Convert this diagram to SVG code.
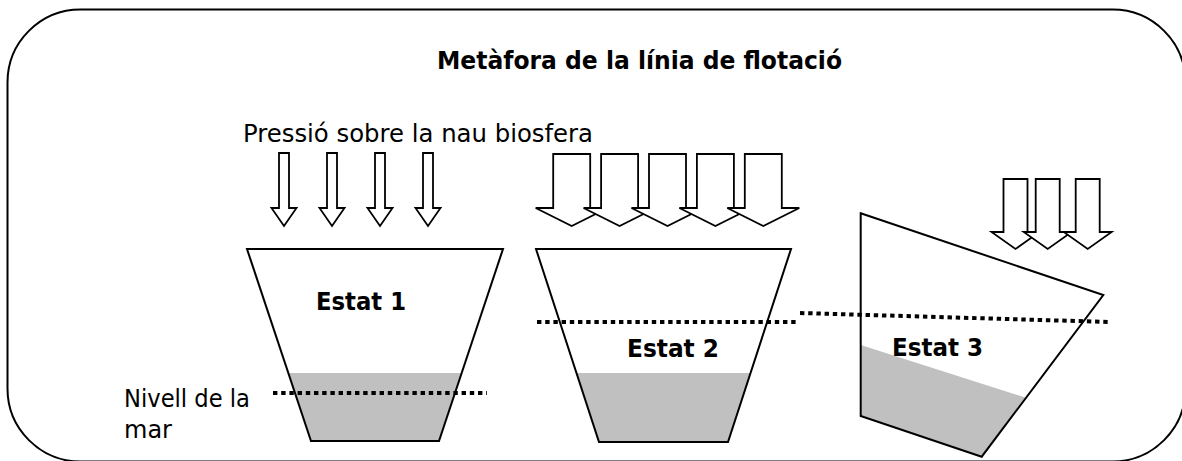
<svg xmlns="http://www.w3.org/2000/svg" width="1182" height="461" viewBox="0 0 1182 461">
<style>
.t{font-family:"DejaVu Sans","Liberation Sans",sans-serif;font-size:24px;fill:#000}
.b{font-weight:bold}
.arr{fill:#fff;stroke:#000;stroke-width:1.8;stroke-linejoin:miter}
.boat{fill:none;stroke:#000;stroke-width:2}
.water{fill:#c0c0c0;stroke:none}
.sea{stroke:#000;stroke-width:4;stroke-dasharray:4.4 3.8;fill:none}
</style>
<rect id="frame" x="7.5" y="9.5" width="1178" height="452" rx="73" ry="73" fill="#fff" stroke="#000" stroke-width="2"/>
<g id="title"><text class="t b" x="437" y="69" textLength="405" lengthAdjust="spacingAndGlyphs">Metàfora de la línia de flotació</text></g>
<g id="pressure-label"><text class="t" x="243" y="142" textLength="350" lengthAdjust="spacingAndGlyphs">Pressió sobre la nau biosfera</text></g>
<g id="arrows1">
<path class="arr" d="M279,153H289V208H296.5L284,226L271.5,208H279Z"/>
<path class="arr" d="M327,153H337V208H344.5L332,226L319.5,208H327Z"/>
<path class="arr" d="M375,153H385V208H392.5L380,226L367.5,208H375Z"/>
<path class="arr" d="M423,153H433V208H440.5L428,226L415.5,208H423Z"/>
</g>
<g id="arrows2">
<path class="arr" d="M553.2,154H590.2V208H607.7L571.7,226L535.7,208H553.2Z"/>
<path class="arr" d="M601.1,154H638.1V208H655.6L619.6,226L583.6,208H601.1Z"/>
<path class="arr" d="M649,154H686V208H703.5L667.5,226L631.5,208H649Z"/>
<path class="arr" d="M696.9,154H733.9V208H751.4L715.4,226L679.4,208H696.9Z"/>
<path class="arr" d="M744.8,154H781.8V208H799.3L763.3,226L727.3,208H744.8Z"/>
</g>
<g id="arrows3">
<path class="arr" d="M1003.5,179H1027.5V232H1039.5L1015.5,249L991.5,232H1003.5Z"/>
<path class="arr" d="M1035.7,179H1059.7V232H1071.7L1047.7,249L1023.7,232H1035.7Z"/>
<path class="arr" d="M1075.7,179H1099.7V232H1111.7L1087.7,249L1063.7,232H1075.7Z"/>
</g>
<g id="state1">
<polygon class="water" points="288.3,373 461.7,373 439,441 311,441"/>
<polygon class="boat" points="247,249 503,249 439,441 311,441"/>
<text class="t b" x="316" y="310" textLength="90" lengthAdjust="spacingAndGlyphs">Estat 1</text>
</g>
<g id="state2">
<polygon class="water" points="576.5,373 750.5,373 728,442 599,442"/>
<polygon class="boat" points="536,249 791,249 728,442 599,442"/>
<text class="t b" x="627" y="357" textLength="92" lengthAdjust="spacingAndGlyphs">Estat 2</text>
</g>
<g id="state3">
<polygon class="water" points="860.7,345 1025,397.5 981.7,456.7 860.7,416"/>
<polygon class="boat" points="860.7,213.3 1103.3,295 981.7,456.7 860.7,416"/>
<text class="t b" x="892" y="356" textLength="91" lengthAdjust="spacingAndGlyphs">Estat 3</text>
</g>
<g id="connectors">
<line class="sea" x1="273" y1="393" x2="487" y2="393"/>
<line class="sea" x1="537" y1="322" x2="797" y2="322"/>
<line class="sea" x1="800" y1="313" x2="1110" y2="322"/>
</g>
<g id="sea-label">
<text class="t" x="124" y="407" textLength="126" lengthAdjust="spacingAndGlyphs">Nivell de la</text>
<text class="t" x="124" y="438">mar</text>
</g>
</svg>
